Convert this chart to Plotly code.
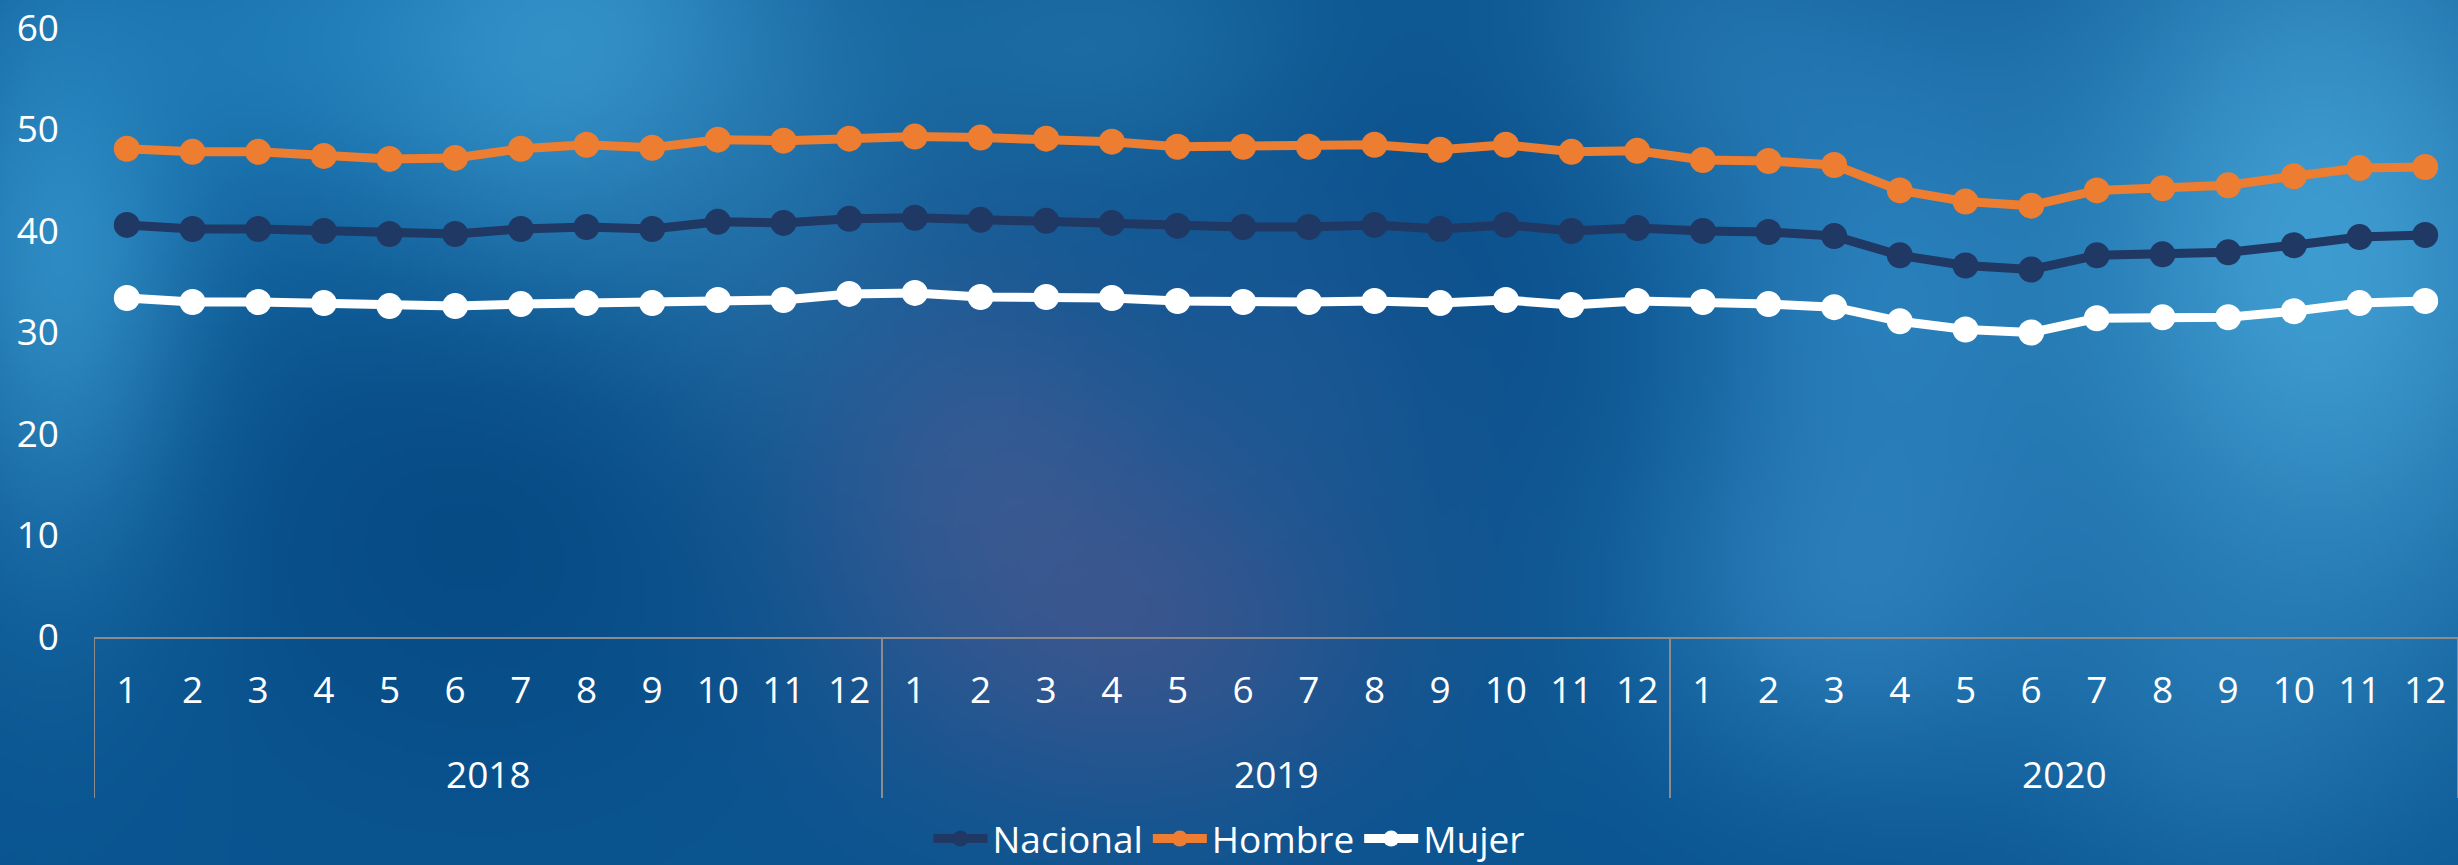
import zlib, struct, base64
import numpy as np
import plotly.graph_objects as go

# ---------------- data ----------------
years = ["2018", "2019", "2020"]
months = [str(m) for m in range(1, 13)]

nacional = [40.6, 40.2, 40.2, 40.0, 39.7, 39.7, 40.2, 40.4, 40.2, 40.9, 40.8, 41.2,
            41.3, 41.1, 41.0, 40.8, 40.5, 40.4, 40.4, 40.6, 40.2, 40.6, 40.0, 40.3,
            40.0, 39.9, 39.5, 37.6, 36.6, 36.2, 37.6, 37.7, 37.9, 38.6, 39.4, 39.6]
hombre = [48.1, 47.8, 47.8, 47.4, 47.1, 47.2, 48.1, 48.5, 48.2, 49.0, 48.9, 49.1,
          49.3, 49.2, 49.1, 48.8, 48.3, 48.3, 48.3, 48.5, 48.0, 48.5, 47.8, 47.9,
          47.0, 46.9, 46.5, 44.0, 42.9, 42.5, 44.0, 44.2, 44.5, 45.4, 46.2, 46.3]
mujer = [33.4, 33.0, 33.0, 32.9, 32.6, 32.6, 32.8, 32.9, 32.9, 33.2, 33.2, 33.8,
         33.9, 33.5, 33.5, 33.4, 33.1, 33.0, 33.0, 33.1, 32.9, 33.2, 32.7, 33.1,
         33.0, 32.8, 32.5, 31.1, 30.3, 30.0, 31.4, 31.5, 31.5, 32.1, 32.9, 33.1]

series = [("Nacional", nacional, "#203864"),
          ("Hombre", hombre, "#ED7D31"),
          ("Mujer", mujer, "#FFFFFF")]

month_labels = [m for _ in years for m in months]
x_idx = list(range(len(month_labels)))
n_per = len(months)

# ---------------- background image (blurred blue) ----------------
W, H = 492, 173
yy, xx = np.mgrid[0:H, 0:W]
fx = xx / (W - 1)
fy = yy / (H - 1)
img = np.zeros((H, W, 3), dtype=float)
img[:] = np.array([10, 85, 145], dtype=float)

blobs = [
    (0.03, 0.30, 0.04, 0.25, (55, 150, 205), 0.85),
    (0.12, 0.05, 0.08, 0.15, (35, 135, 195), 0.6),
    (0.24, 0.08, 0.07, 0.20, (60, 158, 212), 0.85),
    (0.30, 0.30, 0.05, 0.20, (40, 120, 175), 0.5),
    (0.45, 0.05, 0.07, 0.12, (45, 130, 180), 0.5),
    (0.40, 0.55, 0.06, 0.18, (75, 95, 150), 0.6),
    (0.47, 0.72, 0.07, 0.15, (85, 85, 140), 0.55),
    (0.55, 0.40, 0.05, 0.15, (55, 100, 160), 0.4),
    (0.68, 0.08, 0.06, 0.15, (55, 145, 200), 0.5),
    (0.76, 0.35, 0.06, 0.25, (50, 140, 200), 0.7),
    (0.94, 0.30, 0.08, 0.35, (68, 163, 215), 0.9),
    (0.75, 0.68, 0.06, 0.15, (55, 140, 200), 0.6),
    (0.90, 0.80, 0.05, 0.15, (45, 130, 190), 0.45),
    (0.20, 0.60, 0.08, 0.20, (5, 68, 125), 0.6),
    (0.60, 0.25, 0.06, 0.25, (5, 72, 132), 0.5),
]
for cx, cy, sx, sy, col, a in blobs:
    g = a * np.exp(-(((fx - cx) / sx) ** 2 + ((fy - cy) / sy) ** 2) / 2)
    img = img * (1 - g[..., None]) + np.array(col, dtype=float) * g[..., None]
img = np.clip(img, 0, 255).astype(np.uint8)


def png_uri(arr):
    h, w, _ = arr.shape
    raw = b"".join(b"\x00" + arr[r].tobytes() for r in range(h))

    def chunk(t, d):
        c = struct.pack(">I", len(d)) + t + d
        return c + struct.pack(">I", zlib.crc32(t + d) & 0xFFFFFFFF)

    png = (b"\x89PNG\r\n\x1a\n"
           + chunk(b"IHDR", struct.pack(">IIBBBBB", w, h, 8, 2, 0, 0, 0))
           + chunk(b"IDAT", zlib.compress(raw, 9))
           + chunk(b"IEND", b""))
    return "data:image/png;base64," + base64.b64encode(png).decode()


# ---------------- figure ----------------
FIG_W, FIG_H = 2458, 865
ML, MR, MT, MB = 94, 0, 28, 228
PW = FIG_W - ML - MR
PH = FIG_H - MT - MB
AXIS_GRAY = "#8c8c8c"

fig = go.Figure()
for name, vals, col in series:
    fig.add_trace(go.Scatter(
        x=x_idx, y=vals, name=name, mode="lines+markers",
        line=dict(color=col, width=9),
        marker=dict(color=col, size=26),
        cliponaxis=False,
    ))

font = dict(family="Open Sans, Noto Sans, sans-serif", size=37, color="#FFFFFF")

# group dividers and year labels (category axis second level)
shapes = []
annotations = []
for k in range(len(years) + 1):
    shapes.append(dict(type="line", xref="x", yref="paper",
                       x0=k * n_per - 0.5, x1=k * n_per - 0.5,
                       y0=0, y1=-161 / PH,
                       line=dict(color=AXIS_GRAY, width=2)))
for k, yr in enumerate(years):
    annotations.append(dict(text=yr, xref="x", yref="paper",
                            x=k * n_per + (n_per - 1) / 2, y=-136 / PH,
                            showarrow=False, font=font,
                            xanchor="center", yanchor="middle"))

fig.update_layout(
    width=FIG_W, height=FIG_H,
    margin=dict(l=ML, r=MR, t=MT, b=MB, pad=0, autoexpand=False),
    paper_bgcolor="#0c528c",
    plot_bgcolor="rgba(0,0,0,0)",
    font=font,
    showlegend=True,
    legend=dict(orientation="h", xref="container", yref="container",
                x=0.5, xanchor="center", y=26 / FIG_H, yanchor="middle",
                font=font, bgcolor="rgba(0,0,0,0)", itemwidth=54,
                traceorder="normal", tracegroupgap=0),
    shapes=shapes,
    annotations=annotations,
    images=[dict(source=png_uri(img), xref="paper", yref="paper",
                 x=-ML / PW - 0.005, y=1 + MT / PH + 0.01,
                 sizex=FIG_W / PW + 0.01, sizey=FIG_H / PH + 0.02,
                 xanchor="left", yanchor="top", sizing="stretch", layer="below")],
)
fig.update_xaxes(
    range=[-0.5, len(x_idx) - 0.5], tickmode="array",
    tickvals=x_idx, ticktext=month_labels,
    showgrid=False, zeroline=False,
    showline=True, linecolor=AXIS_GRAY, linewidth=2,
    tickfont=font, ticks="", ticklabelstandoff=20,
)
fig.update_yaxes(
    range=[0, 60], dtick=10, showgrid=False, zeroline=False, showline=False,
    tickfont=font, ticks="", ticklabelstandoff=34,
)

fig.write_html("out.html", config={"displayModeBar": False},
               post_script="document.body.style.margin='0';")
